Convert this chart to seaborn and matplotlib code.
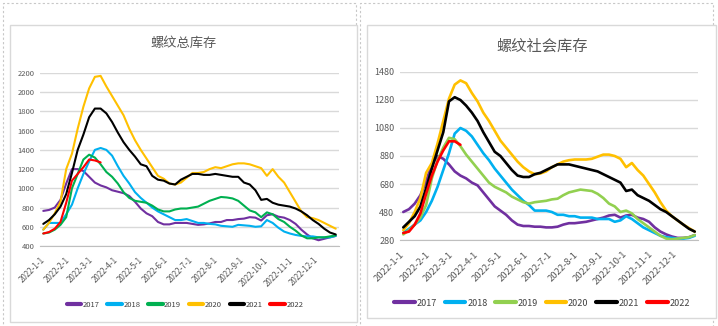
import matplotlib
matplotlib.use("Agg")
import matplotlib.pyplot as plt
import numpy as np
import pandas as pd
import seaborn as sns
from matplotlib.patches import Rectangle

# ---------------- data ----------------
YEARS = ["2017", "2018", "2019", "2020", "2021", "2022"]
DAYS = [4, 11, 18, 25, 32, 39, 46, 53, 60, 67, 74, 81, 88,
        95, 102, 109, 116, 123, 130, 137, 144, 151, 158, 165, 172, 179,
        186, 193, 200, 207, 214, 221, 228, 235, 242, 249, 256, 263, 270,
        277, 284, 291, 298, 305, 312, 319, 326, 333, 340, 347, 354, 361]
MONTH_TICKS = [0, 31, 59, 90, 120, 151, 181, 212, 243, 273, 304, 334]
MONTH_LABELS = ["2022-1-1", "2022-2-1", "2022-3-1", "2022-4-1", "2022-5-1",
                "2022-6-1", "2022-7-1", "2022-8-1", "2022-9-1", "2022-10-1",
                "2022-11-1", "2022-12-1"]

TITLE_TOTAL = "螺纹总库存"
TITLE_SOCIAL = "螺纹社会库存"

total_2017 = [765, 775, 800, 880, 1050, 1200, 1200, 1180, 1120, 1060, 1030, 1010, 980,
              965, 950, 920, 860, 790, 740, 710, 650, 625, 625, 640, 640, 640,
              630, 620, 625, 635, 650, 650, 670, 670, 680, 685, 700, 695, 665,
              720, 730, 705, 695, 670, 630, 570, 520, 480, 460, 475, 490, 505]
total_2018 = [570, 640, 640, 640, 730, 830, 1000, 1150, 1280, 1400, 1420, 1400, 1340,
              1230, 1130, 1050, 960, 900, 850, 800, 760, 730, 700, 670, 670, 680,
              660, 640, 640, 630, 625, 610, 605, 600, 620, 615, 610, 600, 605,
              670, 640, 590, 550, 530, 515, 505, 500, 500, 490, 490, 490, 505]
total_2019 = [530, 540, 570, 620, 700, 1000, 1150, 1300, 1350, 1320, 1250, 1170, 1120,
              1050, 960, 900, 870, 860, 850, 820, 780, 760, 760, 780, 790, 790,
              800, 810, 840, 870, 890, 910, 905, 895, 870, 820, 770, 750, 700,
              750, 730, 680, 650, 600, 560, 510, 480, 480, 490, 490, 500, 510]
total_2020 = [570, 640, 740, 860, 1200, 1360, 1620, 1850, 2040, 2160, 2170, 2060, 1960,
              1860, 1760, 1620, 1500, 1400, 1310, 1220, 1130, 1100, 1050, 1040, 1060, 1110,
              1160, 1160, 1170, 1200, 1220, 1210, 1230, 1250, 1260, 1260, 1250, 1230, 1210,
              1130, 1200, 1120, 1060, 960, 860, 760, 700, 690, 670, 640, 610, 580]
total_2021 = [630, 670, 730, 810, 940, 1160, 1400, 1560, 1740, 1830, 1830, 1780, 1690,
              1580, 1480, 1400, 1330, 1250, 1230, 1130, 1090, 1080, 1050, 1040, 1090, 1120,
              1150, 1150, 1140, 1140, 1150, 1140, 1130, 1120, 1120, 1060, 1040, 980, 880,
              890, 850, 830, 820, 810, 790, 760, 720, 670, 630, 580, 540, 520]
total_2022 = [530, 545, 580, 650, 850, 1080, 1150, 1220, 1300, 1290, 1270]

social_2017 = [480, 500, 540, 600, 700, 820, 880, 860, 820, 770, 740, 720, 690,
               670, 620, 570, 520, 490, 460, 420, 390, 380, 380, 375, 375, 370,
               370, 375, 390, 400, 400, 405, 410, 420, 430, 440, 455, 460, 440,
               455, 460, 440, 430, 410, 370, 340, 320, 305, 295, 295, 300, 315]
social_2018 = [330, 360, 390, 420, 480, 560, 660, 780, 900, 1040, 1080, 1060, 1020,
               960, 900, 850, 790, 740, 690, 640, 600, 560, 530, 490, 490, 490,
               480, 460, 460, 450, 450, 440, 440, 440, 430, 430, 430, 410, 420,
               450, 430, 400, 370, 350, 330, 310, 300, 295, 290, 290, 295, 310]
social_2019 = [320, 350, 390, 440, 530, 720, 850, 940, 1010, 1000, 950, 890, 840,
               790, 740, 690, 660, 640, 620, 590, 570, 550, 540, 550, 555, 560,
               570, 575, 600, 620, 630, 640, 635, 630, 610, 580, 540, 520, 480,
               490, 470, 430, 400, 370, 340, 310, 290, 285, 290, 295, 300, 315]
social_2020 = [350, 400, 480, 580, 760, 830, 970, 1130, 1290, 1390, 1420, 1400, 1330,
               1270, 1190, 1130, 1060, 990, 940, 890, 840, 800, 770, 750, 755, 770,
               800, 820, 840, 850, 855, 855, 855, 860, 875, 890, 890, 880, 860,
               800, 830, 780, 740, 680, 620, 550, 490, 450, 420, 390, 365, 340]
social_2021 = [370, 410, 450, 520, 650, 790, 920, 1050, 1270, 1300, 1280, 1240, 1190,
               1130, 1050, 980, 910, 880, 830, 780, 740, 730, 730, 750, 760, 780,
               800, 820, 820, 820, 810, 800, 790, 780, 770, 750, 730, 710, 690,
               630, 640, 600, 580, 560, 530, 500, 480, 450, 420, 390, 360, 340]
social_2022 = [330, 340, 390, 470, 610, 740, 840, 920, 985, 985, 960]

TOTAL = [total_2017, total_2018, total_2019, total_2020, total_2021, total_2022]
SOCIAL = [social_2017, social_2018, social_2019, social_2020, social_2021, social_2022]

PAL_TOTAL = ["#7030A0", "#00B0F0", "#00B050", "#FFC000", "#000000", "#FF0000"]
PAL_SOCIAL = ["#7030A0", "#00B0F0", "#92D050", "#FFC000", "#000000", "#FF0000"]


def long_frame(series):
    rows = []
    for yr, vals in zip(YEARS, series):
        for d, v in zip(DAYS, vals):
            rows.append((d, v, yr))
    return pd.DataFrame(rows, columns=["day", "value", "year"])


# ---------------- figure ----------------
sns.set_style("white")
plt.rcParams["font.family"] = ["Noto Sans CJK SC", "DejaVu Sans"]

W, H = 718, 326
fig = plt.figure(figsize=(W / 100, H / 100), dpi=100)
fig.patch.set_facecolor("white")


def px_rect(x0, y0, x1, y1, **kw):
    return Rectangle((x0 / W, 1 - y1 / H), (x1 - x0) / W, (y1 - y0) / H,
                     transform=fig.transFigure, zorder=-10, **kw)


# dashed outer boxes
fig.patches.append(px_rect(3, 3, 356, 328, fill=False, ls=(0, (2, 2)), ec="#c8c8c8", lw=0.8))
fig.patches.append(px_rect(360, 3, 713, 328, fill=False, ls=(0, (2, 2)), ec="#c8c8c8", lw=0.8))
# inner chart panels
fig.patches.append(px_rect(10, 25, 357, 322, fc="white", ec="#d9d9d9", lw=1.0))
fig.patches.append(px_rect(367, 25, 716, 318, fc="white", ec="#d9d9d9", lw=1.0))


def make_panel(rect, series, palette, ylim, ystep, title, title_xy, title_size,
               tick_size, xtick_size, legend_xy, lw, leg_size, handlelen, colspace):
    x0, y0, x1, y1 = rect
    ax = fig.add_axes([x0 / W, 1 - y1 / H, (x1 - x0) / W, (y1 - y0) / H])
    ax.set_zorder(5)
    ax.set_facecolor("none")
    df = long_frame(series)
    sns.lineplot(data=df, x="day", y="value", hue="year", palette=palette,
                 hue_order=YEARS, estimator=None, sort=False, lw=lw, ax=ax)
    ax.set_xlim(0, 365)
    ax.set_ylim(*ylim)
    ax.set_yticks(np.arange(ylim[0], ylim[1] + 1, ystep))
    ax.set_xticks(MONTH_TICKS)
    ax.set_xticklabels(MONTH_LABELS, rotation=45, ha="right", rotation_mode="anchor")
    ax.tick_params(axis="x", labelsize=xtick_size, colors="#595959", length=3,
                   width=0.6, pad=4, direction="out")
    ax.tick_params(axis="x", color="#bfbfbf")
    ax.tick_params(axis="y", labelsize=tick_size, colors="#595959", length=0, pad=4)
    ax.grid(axis="y", color="#d9d9d9", lw=1.0)
    ax.grid(axis="x", visible=False)
    ax.set_axisbelow(True)
    for s in ["top", "right", "left"]:
        ax.spines[s].set_visible(False)
    ax.spines["bottom"].set_color("#bfbfbf")
    ax.spines["bottom"].set_linewidth(0.8)
    ax.set_xlabel("")
    ax.set_ylabel("")
    fig.text(title_xy[0] / W, 1 - title_xy[1] / H, title, ha="center", va="center",
             fontsize=title_size, color="#595959")
    sns.move_legend(ax, "center", bbox_to_anchor=(legend_xy[0] / W, 1 - legend_xy[1] / H),
                    bbox_transform=fig.transFigure, ncol=6, frameon=False, title=None,
                    fontsize=leg_size, handlelength=handlelen, columnspacing=colspace,
                    handletextpad=0.2, borderpad=0, borderaxespad=0)
    leg = ax.get_legend()
    for ln in leg.get_lines():
        ln.set_linewidth(3)
    for t in leg.get_texts():
        t.set_color("#404040")
    return ax


make_panel((40, 73, 339, 246), TOTAL, PAL_TOTAL, (400, 2200), 200, TITLE_TOTAL,
           (184, 43), 9.5, 5.5, 5.8, (185, 305), 1.5, 5.5, 1.9, 1.0)
make_panel((400, 72, 698, 240), SOCIAL, PAL_SOCIAL, (280, 1480), 200, TITLE_SOCIAL,
           (542, 46), 11, 6.5, 6.8, (542, 303), 1.9, 6.5, 2.3, 0.85)

fig.savefig("out.png", dpi=100, facecolor="white")
